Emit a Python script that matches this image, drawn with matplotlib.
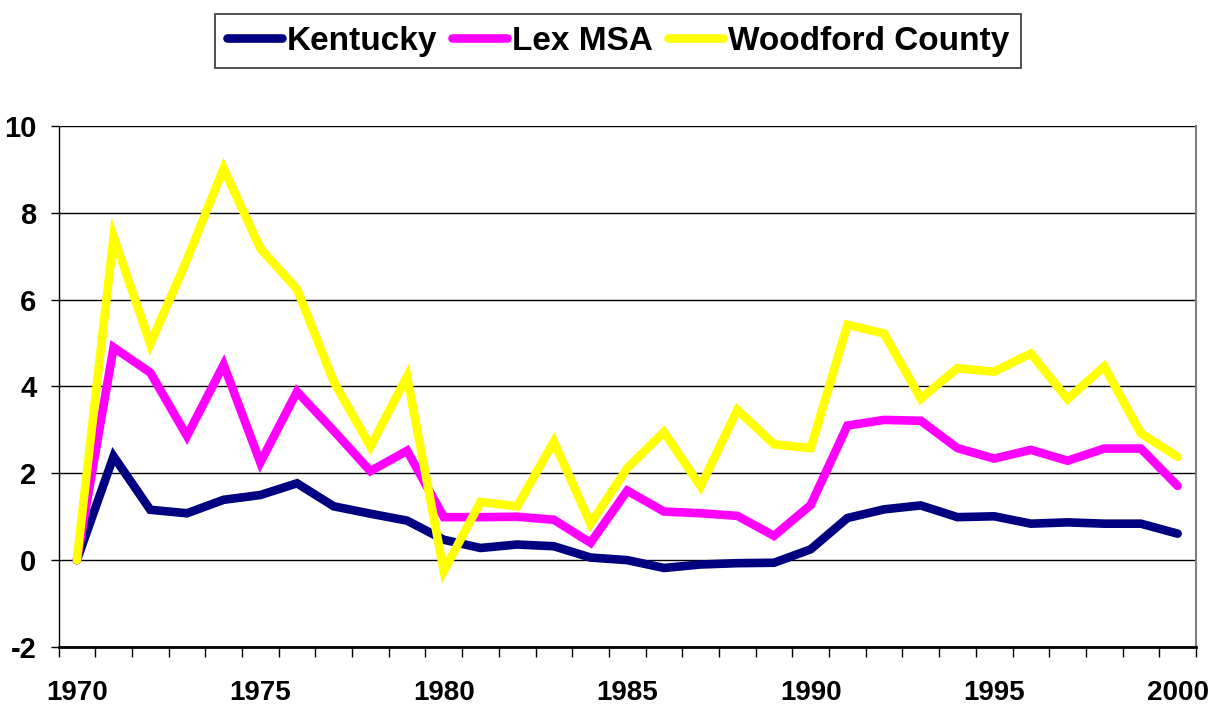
import numpy as np
import matplotlib.pyplot as plt

years = list(range(1970, 2001))

kentucky = [0.0, 2.39, 1.16, 1.08, 1.39, 1.50, 1.77, 1.24, 1.07, 0.91, 0.47,
            0.28, 0.36, 0.32, 0.06, 0.0, -0.18, -0.10, -0.07, -0.06, 0.25,
            0.97, 1.17, 1.26, 0.99, 1.01, 0.84, 0.87, 0.84, 0.84, 0.61]
lex_msa = [0.0, 4.90, 4.32, 2.86, 4.50, 2.25, 3.88, 2.98, 2.05, 2.52, 0.99,
           0.99, 1.00, 0.93, 0.40, 1.60, 1.12, 1.08, 1.02, 0.56, 1.27,
           3.10, 3.23, 3.21, 2.58, 2.34, 2.54, 2.29, 2.57, 2.57, 1.71]
woodford = [0.0, 7.45, 4.98, 6.92, 9.02, 7.18, 6.24, 4.11, 2.62, 4.23, -0.25,
            1.34, 1.24, 2.73, 0.84, 2.12, 2.95, 1.70, 3.46, 2.67, 2.58,
            5.42, 5.22, 3.72, 4.42, 4.34, 4.76, 3.71, 4.46, 2.92, 2.38]

series = [("Kentucky", kentucky, "#000080"),
          ("Lex MSA", lex_msa, "#FF00FF"),
          ("Woodford County", woodford, "#FFFF00")]

plt.rcParams['font.family'] = ['Liberation Sans', 'DejaVu Sans']
plt.rcParams['font.weight'] = 'bold'
plt.rcParams['axes.unicode_minus'] = False

fig = plt.figure(figsize=(12.22, 7.07), dpi=100)
ax = fig.add_axes([0.0479, 0.0849, 0.9308, 0.7369])

handles = []
for name, vals, color in series:
    h, = ax.plot(years, vals, color=color, lw=6.2, label=name,
                 solid_capstyle='round', solid_joinstyle='miter')
    handles.append(h)

ax.set_xlim(1969.5, 2000.5)
ax.set_ylim(-2, 10)

# y axis
ax.set_yticks(np.arange(-2, 11, 2))
ax.yaxis.grid(True, color='black', lw=1.0)
ax.set_axisbelow(True)
ax.tick_params(axis='y', direction='out', length=6, width=1, labelsize=21, pad=10)

# x axis: ticks between categories, labels every 5 years
ax.set_xticks(np.arange(1969.5, 2001, 1.0))
ax.set_xticklabels([])
ax.set_xticks(range(1970, 2001, 5), minor=True)
ax.set_xticklabels([str(y) for y in range(1970, 2001, 5)], minor=True)
ax.tick_params(axis='x', which='major', direction='out', length=7, width=1)
ax.tick_params(axis='x', which='minor', length=0, labelsize=20, pad=24)

for lbl in ax.get_xticklabels(minor=True) + ax.get_yticklabels():
    lbl.set_fontweight('bold')

ax.spines['top'].set_visible(False)
ax.spines['right'].set_color('#808080')
ax.spines['right'].set_linewidth(1.5)
ax.spines['left'].set_linewidth(1.0)
ax.spines['bottom'].set_linewidth(2.0)

leg = fig.legend(handles=handles, loc='upper center', bbox_to_anchor=(0.506, 0.98),
                 ncol=3, frameon=True, fancybox=False, edgecolor='black',
                 prop={'size': 24, 'weight': 'bold'}, handlelength=1.65,
                 handletextpad=0.15, columnspacing=0.45, borderpad=0.35,
                 borderaxespad=0)
leg.get_frame().set_linewidth(1.2)

fig.savefig("out.png", dpi=100)
